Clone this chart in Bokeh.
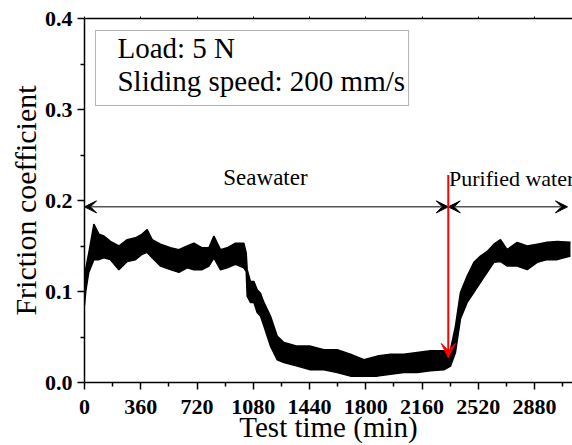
from bokeh.plotting import figure
from bokeh.models import (LinearAxis, Range1d, FixedTicker, Arrow, VeeHead,
                          Label, BoxAnnotation, NumeralTickFormatter)
from bokeh.embed import file_html
from bokeh.resources import INLINE

# ---- data: friction band (upper / lower envelope) ----
time_min = [0, 8, 27, 60, 92, 124, 166, 220, 273, 326, 369, 401, 433, 486, 550,
            604, 657, 700, 753, 796, 828, 870, 913, 966, 1020, 1035, 1041, 1062,
            1084, 1105, 1126, 1148, 1190, 1233, 1276, 1361, 1446, 1532, 1617,
            1702, 1788, 1873, 1958, 2044, 2129, 2214, 2300, 2342, 2374, 2406,
            2449, 2492, 2534, 2577, 2620, 2662, 2705, 2769, 2833, 2897, 2961,
            3025, 3110]
mu_upper = [0.100, 0.125, 0.142, 0.174, 0.163, 0.161, 0.155, 0.150, 0.157, 0.159,
            0.163, 0.168, 0.157, 0.152, 0.148, 0.146, 0.150, 0.153, 0.148, 0.148,
            0.161, 0.146, 0.148, 0.153, 0.153, 0.142, 0.124, 0.111, 0.111, 0.102,
            0.098, 0.088, 0.073, 0.051, 0.044, 0.040, 0.040, 0.036, 0.036, 0.031,
            0.025, 0.029, 0.031, 0.031, 0.033, 0.035, 0.035, 0.036, 0.062, 0.099,
            0.117, 0.132, 0.139, 0.144, 0.152, 0.157, 0.146, 0.154, 0.150, 0.152,
            0.154, 0.155, 0.154]
mu_lower = [0.085, 0.100, 0.121, 0.135, 0.135, 0.137, 0.135, 0.124, 0.133, 0.135,
            0.141, 0.143, 0.137, 0.128, 0.124, 0.121, 0.126, 0.124, 0.124, 0.128,
            0.137, 0.124, 0.126, 0.130, 0.126, 0.122, 0.095, 0.088, 0.088, 0.077,
            0.073, 0.062, 0.040, 0.025, 0.022, 0.018, 0.014, 0.014, 0.011, 0.007,
            0.007, 0.007, 0.009, 0.011, 0.011, 0.013, 0.014, 0.018, 0.033, 0.070,
            0.088, 0.099, 0.110, 0.121, 0.132, 0.133, 0.128, 0.128, 0.124, 0.132,
            0.135, 0.135, 0.139]

x_ticks = [0, 360, 720, 1080, 1440, 1800, 2160, 2520, 2880, 3240]
y_ticks = [0.0, 0.1, 0.2, 0.3, 0.4]

switch_time = 2328          # seawater -> purified water
region_y = 0.193
red_top, red_tip = 0.228, 0.0275
seg_end = 3091

serif = "Liberation Serif"
tick_font = "Times New Roman"

p = figure(width=572, height=445, output_backend="svg", toolbar_location=None,
           x_range=Range1d(0, 3123), y_range=Range1d(0, 0.4),
           min_border_left=84, min_border_right=0, min_border_top=18,
           min_border_bottom=62, x_axis_label="Test time (min)",
           y_axis_label="Friction coefficient")
p.grid.visible = False
p.outline_line_color = None
p.background_fill_color = "white"
p.border_fill_color = "white"

p.xaxis.ticker = FixedTicker(ticks=x_ticks,
                             minor_ticks=[t + 180 for t in [-360] + x_ticks])
p.yaxis.ticker = FixedTicker(ticks=y_ticks,
                             minor_ticks=[round(t + 0.05, 2) for t in y_ticks])
p.yaxis.formatter = NumeralTickFormatter(format="0.0")

for ax in (p.xaxis[0], p.yaxis[0]):
    ax.axis_line_color = "black"
    ax.axis_line_width = 1.5
    ax.major_tick_line_width = 1.5
    ax.minor_tick_line_width = 1.5
    ax.major_tick_in = 0
    ax.minor_tick_in = 0
    ax.major_tick_out = 7
    ax.minor_tick_out = 4
    ax.major_label_text_font = tick_font
    ax.major_label_text_font_style = "bold"
    ax.major_label_text_font_size = "22px"
    ax.major_label_text_color = "black"
    ax.axis_label_text_font = serif
    ax.axis_label_text_font_style = "normal"
    ax.axis_label_text_color = "black"
p.yaxis.major_label_standoff = 5
p.yaxis.axis_label_standoff = 0
p.xaxis.major_label_standoff = 10
p.xaxis.axis_label_standoff = -6
p.xaxis.axis_label_text_font_size = "29px"
p.yaxis.axis_label_text_font_size = "30px"

top = LinearAxis(ticker=FixedTicker(ticks=x_ticks,
                                    minor_ticks=[t + 180 for t in [-360] + x_ticks]),
                 major_label_text_font_size="0px", major_tick_in=0,
                 major_tick_out=2, minor_tick_in=0, minor_tick_out=0,
                 axis_line_width=1.5, major_label_standoff=0)
p.add_layout(top, "above")

# data band
p.varea(x=time_min, y1=mu_lower, y2=mu_upper, fill_color="black")
p.line(time_min, mu_upper, line_color="black", line_width=1.5)
p.line(time_min, mu_lower, line_color="black", line_width=1.5)

# region arrows
grey = "#555555"
p.add_layout(Arrow(x_start=switch_time, y_start=region_y, x_end=0, y_end=region_y,
                   line_color=grey, line_width=1.5,
                   start=VeeHead(size=12, fill_color="black", line_color="black"),
                   end=VeeHead(size=12, fill_color="black", line_color="black")))
p.add_layout(Arrow(x_start=switch_time, y_start=region_y, x_end=seg_end, y_end=region_y,
                   line_color=grey, line_width=1.5,
                   start=VeeHead(size=12, fill_color="black", line_color="black"),
                   end=VeeHead(size=12, fill_color="black", line_color="black")))
p.add_layout(Arrow(x_start=switch_time, y_start=red_top, x_end=switch_time, y_end=red_tip,
                   line_color="red", line_width=2,
                   end=VeeHead(size=14, fill_color="red", line_color="red")))

p.add_layout(Label(x=1158, y=0.211, text="Seawater", text_align="center",
                   text_font=serif, text_font_size="23px", text_color="black"))
p.add_layout(Label(x=switch_time + 5, y=0.21, text="Purified water",
                   text_font=serif, text_font_size="22px", text_color="black"))

# info box
p.add_layout(BoxAnnotation(left=70, right=2074, bottom=0.3044, top=0.3868,
                           fill_alpha=0, line_color="black", line_width=1))
p.add_layout(Label(x=211, y=0.3505, text="Load: 5 N", text_font=serif,
                   text_font_size="29px", text_color="black"))
p.add_layout(Label(x=211, y=0.3132, text="Sliding speed: 200 mm/s", text_font=serif,
                   text_font_size="29px", text_color="black"))

open("out.html", "w").write(file_html(p, INLINE))
